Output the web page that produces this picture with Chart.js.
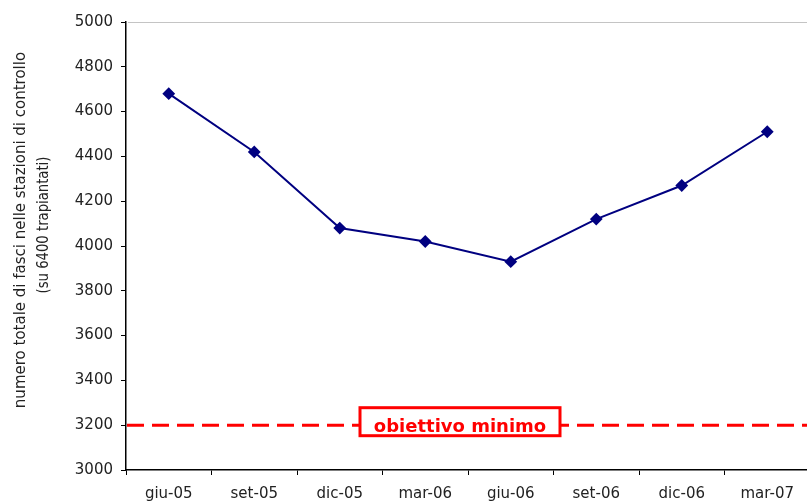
<!DOCTYPE html>
<html>
<head>
<meta charset="utf-8">
<script src="https://cdn.jsdelivr.net/npm/chart.js@4/dist/chart.umd.min.js"></script>
<style>
  html, body { margin: 0; padding: 0; background: #fff; overflow: hidden; }
  #wrap { width: 817px; height: 504px; }
</style>
</head>
<body>
<div id="wrap"><canvas id="c" width="817" height="504"></canvas></div>
<script>
// Survey dates (quarterly) and total bundles counted in the control stations
const categories = ['giu-05', 'set-05', 'dic-05', 'mar-06', 'giu-06', 'set-06', 'dic-06', 'mar-07'];
const fasci = [4680, 4420, 4080, 4020, 3930, 4120, 4270, 4510];

// Value axis range
const yMin = 3000;
const yMax = 5000;
const yStep = 200;

// Minimum target line
const obiettivoMinimo = 3200;
const obiettivoLabel = 'obiettivo minimo';

const yTitleLines = ['numero totale di fasci nelle stazioni di controllo', '(su 6400 trapiantati)'];

const FONT = 'DejaVu Sans';

// Dashed target line across the plot, with its boxed caption
const targetPlugin = {
  id: 'target',
  beforeDatasetsDraw(chart) {
    const { ctx, chartArea, scales } = chart;
    const y = scales.y.getPixelForValue(obiettivoMinimo);
    ctx.save();
    ctx.strokeStyle = '#ff0000';
    ctx.lineWidth = 3;
    ctx.setLineDash([17, 8]);
    ctx.beginPath();
    ctx.moveTo(chartArea.left + 1, y);
    ctx.lineTo(chartArea.right, y);
    ctx.stroke();
    ctx.restore();
  },
  afterDatasetsDraw(chart) {
    const { ctx, chartArea, scales } = chart;
    const y = scales.y.getPixelForValue(obiettivoMinimo);
    const cx = chartArea.left + 334;
    const w = 200, h = 28;
    const top = y - 3.5 - h / 2;
    ctx.save();
    ctx.fillStyle = '#ffffff';
    ctx.fillRect(cx - w / 2, top, w, h);
    ctx.strokeStyle = '#ff0000';
    ctx.lineWidth = 3;
    ctx.strokeRect(cx - w / 2, top, w, h);
    ctx.fillStyle = '#ff0000';
    ctx.font = 'bold 18px "' + FONT + '"';
    ctx.textAlign = 'center';
    ctx.textBaseline = 'alphabetic';
    ctx.fillText(obiettivoLabel, cx, y + 6.5);
    ctx.restore();
  }
};

// Rotated two-line axis title and the light plot-area top border
const framePlugin = {
  id: 'frame',
  afterDraw(chart) {
    const { ctx, chartArea } = chart;
    ctx.save();
    ctx.strokeStyle = '#c4c4c4';
    ctx.lineWidth = 1;
    ctx.beginPath();
    ctx.moveTo(chartArea.left + 2, chartArea.top + 0.5);
    ctx.lineTo(chartArea.right, chartArea.top + 0.5);
    ctx.stroke();

    ctx.fillStyle = '#222';
    ctx.font = '15px "' + FONT + '"';
    ctx.textAlign = 'center';
    ctx.textBaseline = 'middle';
    const xs = [21, 44];
    const centers = [230, 225];
    const squeeze = [1, 0.88];
    yTitleLines.forEach((line, i) => {
      ctx.save();
      ctx.translate(xs[i], centers[i]);
      ctx.rotate(-Math.PI / 2);
      ctx.scale(squeeze[i], 1);
      ctx.fillText(line, 0, 0);
      ctx.restore();
    });
    ctx.restore();
  }
};

new Chart(document.getElementById('c'), {
  type: 'line',
  data: {
    labels: categories,
    datasets: [{
      data: fasci,
      borderColor: '#000080',
      backgroundColor: '#000080',
      borderWidth: 2,
      pointStyle: 'rectRot',
      pointRadius: 5,
      pointBackgroundColor: '#000080',
      pointBorderColor: '#000080',
      tension: 0,
      fill: false
    }]
  },
  options: {
    responsive: false,
    animation: false,
    devicePixelRatio: 1,
    layout: { padding: { top: 22, right: 0, bottom: 0, left: 0 } },
    plugins: {
      legend: { display: false },
      tooltip: { enabled: false }
    },
    scales: {
      x: {
        offset: true,
        grid: {
          offset: true,
          drawOnChartArea: false,
          drawTicks: true,
          tickLength: 5,
          color: '#000'
        },
        border: { display: true, color: '#000', width: 1.5 },
        ticks: {
          font: { family: FONT, size: 15 },
          color: '#222',
          padding: 10,
          maxRotation: 0,
          autoSkip: false
        },
        afterFit(scale) { scale.height = 34; }
      },
      y: {
        min: yMin,
        max: yMax,
        grid: {
          drawOnChartArea: false,
          drawTicks: true,
          tickLength: 5,
          color: '#000'
        },
        border: { display: true, color: '#000', width: 1.5 },
        ticks: {
          stepSize: yStep,
          font: { family: FONT, size: 15 },
          color: '#222',
          padding: 8,
          callback: (value) => String(value)
        },
        afterFit(scale) { scale.width = 126; }
      }
    }
  },
  plugins: [targetPlugin, framePlugin]
});
</script>
</body>
</html>
